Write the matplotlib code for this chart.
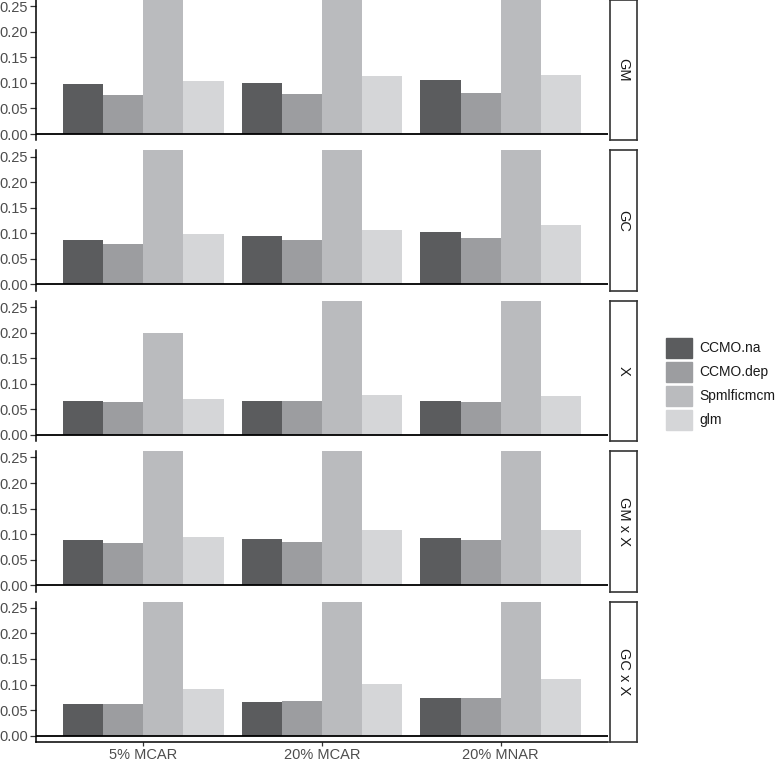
import matplotlib
matplotlib.use("Agg")
import matplotlib.pyplot as plt
from matplotlib.patches import Rectangle
import numpy as np

plt.rcParams["font.family"] = ["Liberation Sans", "DejaVu Sans"]

# categories and series
scenarios = ["5% MCAR", "20% MCAR", "20% MNAR"]
methods = ["CCMO.na", "CCMO.dep", "Spmlficmcm", "glm"]
effects = ["GM", "GC", "X", "GM x X", "GC x X"]

# values per effect, rows = methods, cols = scenarios
# (Spmlficmcm bars run off the top of the panel, so those are rough guesses)
gm = [[0.098, 0.100, 0.105],
      [0.076, 0.078, 0.081],
      [0.35, 0.35, 0.35],
      [0.103, 0.113, 0.116]]
gc = [[0.086, 0.095, 0.103],
      [0.079, 0.087, 0.091],
      [0.35, 0.35, 0.35],
      [0.098, 0.107, 0.117]]
x_eff = [[0.066, 0.066, 0.066],
         [0.065, 0.066, 0.064],
         [0.200, 0.35, 0.35],
         [0.070, 0.078, 0.076]]
gmx = [[0.088, 0.090, 0.093],
       [0.082, 0.084, 0.088],
       [0.35, 0.35, 0.35],
       [0.095, 0.108, 0.109]]
gcx = [[0.061, 0.066, 0.074],
       [0.061, 0.067, 0.073],
       [0.35, 0.35, 0.35],
       [0.092, 0.101, 0.111]]
panel_data = [gm, gc, x_eff, gmx, gcx]

colors = ["#5b5c5e", "#9c9da0", "#babbbe", "#d5d6d8"]
yticks = [0.00, 0.05, 0.10, 0.15, 0.20, 0.25]

W, H = 783, 762
fig = plt.figure(figsize=(W / 100, H / 100), dpi=100)

px_left, px_right = 36, 608
panel_h = 140.5
step = 150.4
first_bottom = 140.4
text_col = "#4d4d4d"

width = 0.9 / len(methods)
xpos = np.arange(len(scenarios))

for i, (name, vals) in enumerate(zip(effects, panel_data)):
    bottom_px = first_bottom + step * i
    ax = fig.add_axes([px_left / W, 1 - bottom_px / H,
                       (px_right - px_left) / W, panel_h / H])
    for j, m in enumerate(methods):
        ax.bar(xpos - 0.45 + width * (j + 0.5), vals[j], width=width,
               color=colors[j], label=m, linewidth=0)
    ax.axhline(0, color="black", lw=1.3)
    ax.set_ylim(-0.0125, 0.2625)
    ax.set_xlim(-0.6, len(scenarios) - 0.4)
    ax.set_yticks(yticks)
    ax.set_yticklabels([f"{t:.2f}" for t in yticks])
    ax.tick_params(axis="y", labelsize=10.5, labelcolor=text_col, length=4,
                   width=0.9, color="#333333", pad=2)
    for s in ["top", "right"]:
        ax.spines[s].set_visible(False)
    ax.spines["left"].set_linewidth(1.1)
    if i < len(effects) - 1:
        ax.spines["bottom"].set_visible(False)
        ax.set_xticks([])
    else:
        ax.spines["bottom"].set_linewidth(1.1)
        ax.set_xticks(xpos)
        ax.set_xticklabels(scenarios)
        ax.tick_params(axis="x", labelsize=10.5, labelcolor=text_col, length=3,
                       width=0.9, color="#333333", pad=1)

    # strip on the right
    sax = fig.add_axes([610 / W, 1 - bottom_px / H, 27 / W, panel_h / H])
    sax.set_xticks([])
    sax.set_yticks([])
    for s in sax.spines.values():
        s.set_linewidth(1.2)
        s.set_color("#333333")
    sax.text(0.5, 0.5, name, rotation=270, ha="center", va="center",
             fontsize=10.5, color="#1a1a1a", transform=sax.transAxes)

# legend
handles = [Rectangle((0, 0), 1, 1, color=c) for c in colors]
fig.legend(handles, methods, loc="center left",
           bbox_to_anchor=(666 / W, 1 - 384 / H), frameon=False,
           fontsize=10, handlelength=1.9, handleheight=1.9,
           handletextpad=0.5, labelspacing=0.25, borderaxespad=0,
           borderpad=0, labelcolor="#1a1a1a")

fig.savefig("out.png", dpi=100)
